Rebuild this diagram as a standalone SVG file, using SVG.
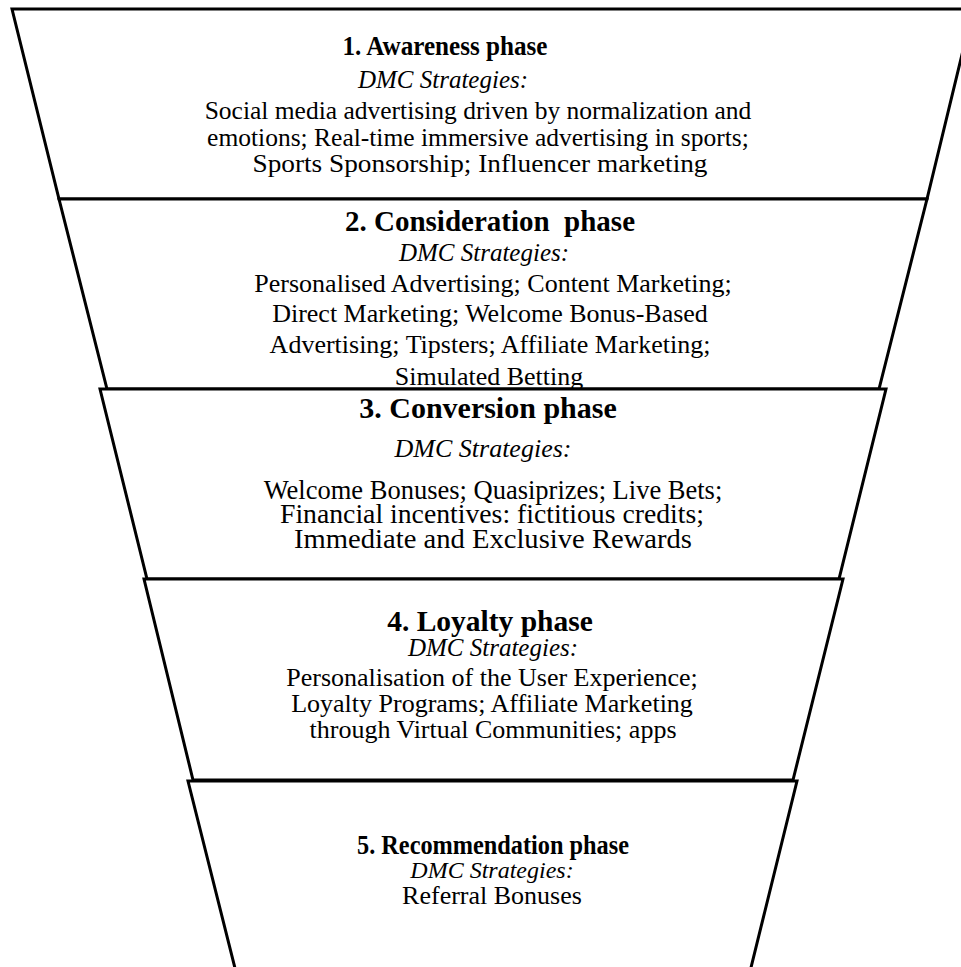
<svg xmlns="http://www.w3.org/2000/svg" width="961" height="967" viewBox="0 0 961 967">
<style>
.stage{fill:#fff;stroke:#000;stroke-width:3;stroke-linejoin:miter}
text{font-family:"Liberation Serif","Times New Roman",serif;fill:#000;text-anchor:middle}
.t{font-weight:bold;font-size:27px}
.d{font-style:italic;font-size:25px}
.b{font-size:26px}
</style>
<rect width="961" height="967" fill="#fff"/>
<g id="stage1">
<polygon class="stage" points="12,9 973,9 927,199 59,199"/>
<text class="t" x="445" y="55" textLength="205" lengthAdjust="spacingAndGlyphs">1. Awareness phase</text>
<text class="d" x="443" y="88">DMC Strategies:</text>
<text class="b" x="478" y="119" style="font-size:25.5px">Social media advertising driven by normalization and</text>
<text class="b" x="478" y="146" style="font-size:25.5px">emotions; Real-time immersive advertising in sports;</text>
<text class="b" x="480" y="172" style="font-size:25.5px" textLength="455" lengthAdjust="spacingAndGlyphs">Sports Sponsorship; Influencer marketing</text>
</g>
<g id="stage2">
<polygon class="stage" points="59,199 927,199 879,389 107,389"/>
<text class="t" x="490" y="231" style="font-size:29px" xml:space="preserve">2. Consideration  phase</text>
<text class="d" x="484" y="261">DMC Strategies:</text>
<text class="b" x="493" y="292">Personalised Advertising; Content Marketing;</text>
<text class="b" x="490" y="322">Direct Marketing; Welcome Bonus-Based</text>
<text class="b" x="490" y="353">Advertising; Tipsters; Affiliate Marketing;</text>
<text class="b" x="489" y="385">Simulated Betting</text>
</g>
<g id="stage3">
<polygon class="stage" points="100,389 886,389 839,579 147,579"/>
<text class="t" x="488" y="418" style="font-size:30px">3. Conversion phase</text>
<text class="d" x="483" y="457" style="font-size:26px">DMC Strategies:</text>
<text class="b" x="493" y="499" style="font-size:26.5px">Welcome Bonuses; Quasiprizes; Live Bets;</text>
<text class="b" x="492" y="523" style="font-size:26.5px" textLength="424" lengthAdjust="spacingAndGlyphs">Financial incentives: fictitious credits;</text>
<text class="b" x="493" y="548" style="font-size:26.5px" textLength="398" lengthAdjust="spacingAndGlyphs">Immediate and Exclusive Rewards</text>
</g>
<g id="stage4">
<polygon class="stage" points="144,579 843,579 793,780 193,780"/>
<text class="t" x="490" y="631" style="font-size:29.5px">4. Loyalty phase</text>
<text class="d" x="493" y="656">DMC Strategies:</text>
<text class="b" x="492" y="686">Personalisation of the User Experience;</text>
<text class="b" x="492" y="712">Loyalty Programs; Affiliate Marketing</text>
<text class="b" x="493" y="738">through Virtual Communities; apps</text>
</g>
<g id="stage5">
<polygon class="stage" points="188,781 797,781 743,1000 243,1000"/>
<text class="t" x="493" y="854" textLength="272" lengthAdjust="spacingAndGlyphs">5. Recommendation phase</text>
<text class="d" x="492" y="878" style="font-size:24px">DMC Strategies:</text>
<text class="b" x="492" y="904">Referral Bonuses</text>
</g>
<g id="connectors"></g>
</svg>
